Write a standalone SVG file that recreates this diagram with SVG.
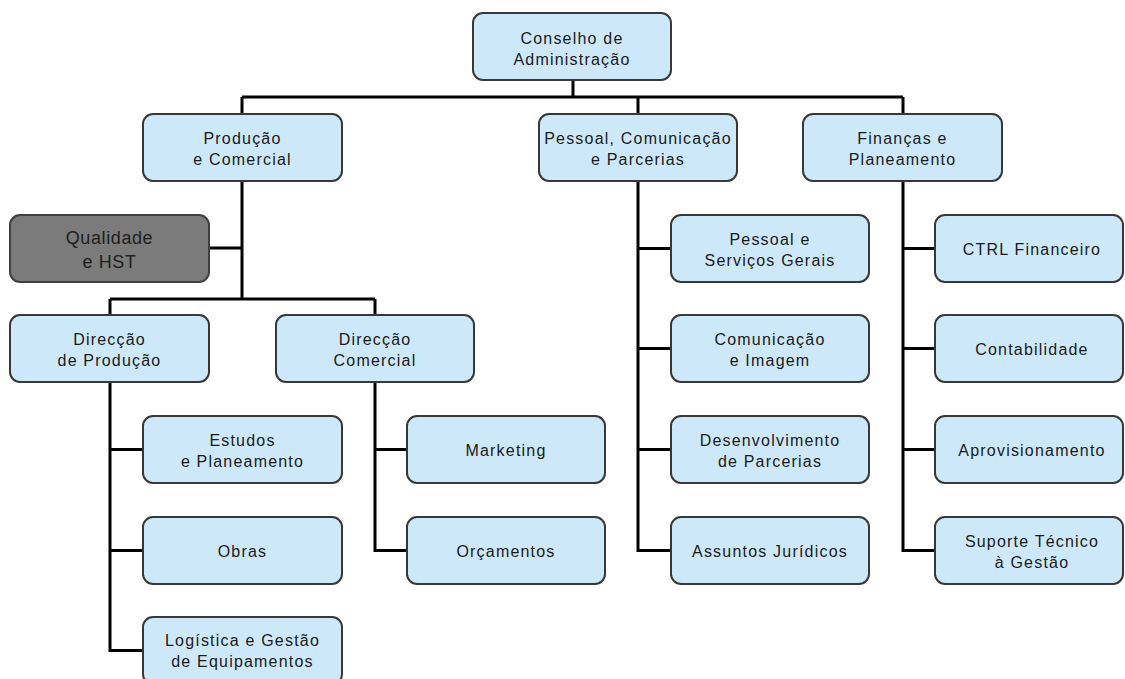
<svg xmlns="http://www.w3.org/2000/svg" width="1125" height="679" viewBox="0 0 1125 679">
<style>
.box{fill:#cde9f9;stroke:#383838;stroke-width:2}
.dark{fill:#7b7b7b;stroke:#404040;stroke-width:2}
.t{font-family:"Liberation Sans",Arial,sans-serif;font-size:16px;letter-spacing:1.2px;fill:#1a1a1a;text-anchor:middle}
.td{font-family:"Liberation Sans",Arial,sans-serif;font-size:18px;letter-spacing:0.6px;fill:#1e1e1e;text-anchor:middle}
.c{fill:none;stroke:#000;stroke-width:3}
</style>
<rect width="1125" height="679" fill="#fff"/>
<g id="connectors">
<path class="c" d="M573,80V97M242,97H903M242,97V114M638,97V114M903,97V114"/>
<path class="c" d="M242,181V299M209,248H242M110,299H375M110,299V315M375,299V315"/>
<path class="c" d="M110,382V650.5H143M110,449.5H143M110,550.5H143"/>
<path class="c" d="M375,382V550.5H407M375,449.5H407"/>
<path class="c" d="M638,181V550.5H671M638,248.5H671M638,348.5H671M638,449.5H671"/>
<path class="c" d="M903,181V550.5H935M903,248.5H935M903,348.5H935M903,449.5H935"/>
</g>
<g id="conselho"><rect class="box" x="473" y="13" width="198" height="67" rx="10"/><text class="t" x="572" y="44">Conselho de</text><text class="t" x="572" y="65">Administração</text></g>
<g id="producao"><rect class="box" x="143" y="114" width="199" height="67" rx="10"/><text class="t" x="242.5" y="144">Produção</text><text class="t" x="242.5" y="165">e Comercial</text></g>
<g id="pessoal"><rect class="box" x="539" y="114" width="198" height="67" rx="10"/><text class="t" x="638" y="144" letter-spacing="1.1">Pessoal, Comunicação</text><text class="t" x="638" y="165">e Parcerias</text></g>
<g id="financas"><rect class="box" x="803" y="114" width="199" height="67" rx="10"/><text class="t" x="902.5" y="144">Finanças e</text><text class="t" x="902.5" y="165">Planeamento</text></g>
<g id="qualidade"><rect class="dark" x="10" y="215" width="199" height="67" rx="10"/><text class="td" x="109.5" y="244">Qualidade</text><text class="td" x="109.5" y="268">e HST</text></g>
<g id="pessoal-servicos"><rect class="box" x="671" y="215" width="198" height="67" rx="10"/><text class="t" x="770" y="245">Pessoal e</text><text class="t" x="770" y="266">Serviços Gerais</text></g>
<g id="ctrl-financeiro"><rect class="box" x="935" y="215" width="188" height="67" rx="10"/><text class="t" x="1032" y="254.5">CTRL Financeiro</text></g>
<g id="direccao-producao"><rect class="box" x="10" y="315" width="199" height="67" rx="10"/><text class="t" x="109.5" y="345">Direcção</text><text class="t" x="109.5" y="366">de Produção</text></g>
<g id="direccao-comercial"><rect class="box" x="276" y="315" width="198" height="67" rx="10"/><text class="t" x="375" y="345">Direcção</text><text class="t" x="375" y="366">Comercial</text></g>
<g id="comunicacao"><rect class="box" x="671" y="315" width="198" height="67" rx="10"/><text class="t" x="770" y="345">Comunicação</text><text class="t" x="770" y="366">e Imagem</text></g>
<g id="contabilidade"><rect class="box" x="935" y="315" width="188" height="67" rx="10"/><text class="t" x="1032" y="354.5">Contabilidade</text></g>
<g id="estudos"><rect class="box" x="143" y="416" width="199" height="67" rx="10"/><text class="t" x="242.5" y="446">Estudos</text><text class="t" x="242.5" y="467">e Planeamento</text></g>
<g id="marketing"><rect class="box" x="407" y="416" width="198" height="67" rx="10"/><text class="t" x="506" y="455.5">Marketing</text></g>
<g id="desenvolvimento"><rect class="box" x="671" y="416" width="198" height="67" rx="10"/><text class="t" x="770" y="446">Desenvolvimento</text><text class="t" x="770" y="467">de Parcerias</text></g>
<g id="aprovisionamento"><rect class="box" x="935" y="416" width="188" height="67" rx="10"/><text class="t" x="1032" y="455.5">Aprovisionamento</text></g>
<g id="obras"><rect class="box" x="143" y="517" width="199" height="67" rx="10"/><text class="t" x="242.5" y="556.5">Obras</text></g>
<g id="orcamentos"><rect class="box" x="407" y="517" width="198" height="67" rx="10"/><text class="t" x="506" y="556.5">Orçamentos</text></g>
<g id="assuntos"><rect class="box" x="671" y="517" width="198" height="67" rx="10"/><text class="t" x="770" y="556.5">Assuntos Jurídicos</text></g>
<g id="suporte"><rect class="box" x="935" y="517" width="188" height="67" rx="10"/><text class="t" x="1032" y="547">Suporte Técnico</text><text class="t" x="1032" y="568">à Gestão</text></g>
<g id="logistica"><rect class="box" x="143" y="617" width="199" height="67" rx="10"/><text class="t" x="242.5" y="646">Logística e Gestão</text><text class="t" x="242.5" y="667">de Equipamentos</text></g>
</svg>
